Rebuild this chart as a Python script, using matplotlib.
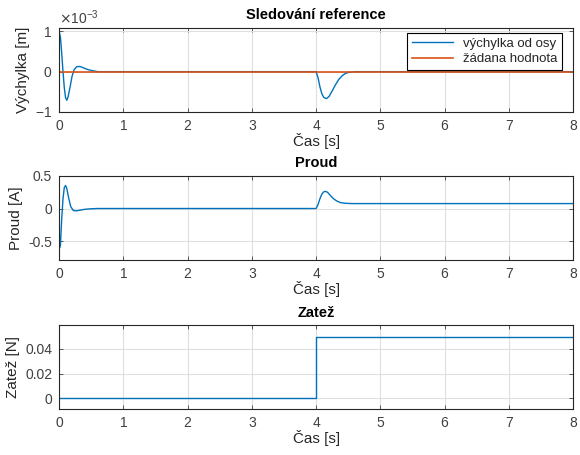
import numpy as np
import matplotlib
matplotlib.use('Agg')
import matplotlib.pyplot as plt
from matplotlib.ticker import ScalarFormatter

# data
t_vych = [0, 0.02, 0.04, 0.06, 0.08, 0.10, 0.12, 0.14, 0.17, 0.20, 0.23, 0.27, 0.32,
          0.37, 0.43, 0.50, 0.60, 4.0, 4.03, 4.06, 4.09, 4.12, 4.16, 4.20, 4.25,
          4.30, 4.35, 4.40, 4.45, 4.50, 4.60, 8.0]
vychylka = [1.0, 0.85, 0.45, 0.0, -0.4, -0.65, -0.71, -0.62, -0.38, -0.12, 0.04, 0.12,
            0.13, 0.10, 0.06, 0.03, 0.0, 0.0, -0.15, -0.38, -0.55, -0.64, -0.67, -0.62,
            -0.48, -0.33, -0.2, -0.11, -0.05, -0.02, 0.0, 0.0]  # x 1e-3 m
t_ref = [0, 8]
reference = [0, 0]

t_proud = [0, 0.005, 0.02, 0.04, 0.06, 0.08, 0.10, 0.12, 0.15, 0.18, 0.22, 0.27, 0.33,
           0.40, 0.50, 0.60, 4.0, 4.03, 4.06, 4.09, 4.12, 4.15, 4.18, 4.22, 4.27, 4.32,
           4.38, 4.45, 4.55, 8.0]
proud = [0, -0.6, -0.55, -0.15, 0.15, 0.32, 0.35, 0.30, 0.15, 0.03, -0.03, -0.035,
         -0.025, -0.012, -0.004, 0.0, 0.0, 0.06, 0.15, 0.22, 0.255, 0.26, 0.245, 0.2,
         0.15, 0.115, 0.09, 0.08, 0.075, 0.075]

t_zatez = [0, 4, 4, 8]
zatez = [0, 0, 0.05, 0.05]

plt.rcParams['font.family'] = ['Liberation Sans', 'DejaVu Sans']
plt.rcParams['axes.unicode_minus'] = False
txt = '#262626'
tck = '#404040'
modra = '#0072BD'
oranz = '#D95319'

fig = plt.figure(figsize=(5.8, 4.55), dpi=100)
ax1 = fig.add_axes([0.102, 0.754, 0.886, 0.185])
ax2 = fig.add_axes([0.102, 0.429, 0.886, 0.185])
ax3 = fig.add_axes([0.102, 0.101, 0.886, 0.185])

ax1.plot(t_vych, np.array(vychylka) * 1e-3, color=modra, lw=1, label='výchylka od osy')
ax1.plot(t_ref, reference, color=oranz, lw=1.2, label='žádana hodnota')
ax1.set_ylim(-1e-3, 1.09e-3)
ax1.set_yticks([-1e-3, 0, 1e-3])
fmt = ScalarFormatter(useMathText=True)
fmt.set_powerlimits((-2, 2))
ax1.yaxis.set_major_formatter(fmt)
ax1.set_ylabel('Výchylka [m]')
ax1.set_title('Sledování reference')
leg = ax1.legend(loc='upper right', fontsize=9.5, fancybox=False, framealpha=1,
                 edgecolor='black', borderpad=0.35, handlelength=3.1,
                 labelspacing=0.25, borderaxespad=0,
                 bbox_to_anchor=(0.979, 0.94))
leg.get_frame().set_linewidth(0.8)
for t in leg.get_texts():
    t.set_color(txt)

ax2.plot(t_proud, proud, color=modra, lw=1)
ax2.set_ylim(-0.78, 0.5)
ax2.set_yticks([-0.5, 0, 0.5])
ax2.set_yticklabels(['-0.5', '0', '0.5'])
ax2.set_ylabel('Proud [A]')
ax2.set_title('Proud')

ax3.plot(t_zatez, zatez, color=modra, lw=1)
ax3.set_ylim(-0.0087, 0.0595)
ax3.set_yticks([0, 0.02, 0.04])
ax3.set_yticklabels(['0', '0.02', '0.04'])
ax3.set_ylabel('Zatež [N]')
ax3.set_title('Zatež')

for ax in (ax1, ax2, ax3):
    ax.set_xlim(0, 8)
    ax.set_xticks(range(0, 9))
    ax.set_xlabel('Čas [s]', fontsize=11, color=txt, labelpad=0)
    ax.yaxis.label.set_color(txt)
    ax.yaxis.label.set_size(11)
    ax.title.set_fontweight('bold')
    ax.title.set_size(10.5)
    ax.title.set_color('black')
    ax.grid(True, color='#dfdfdf', lw=0.8)
    ax.set_axisbelow(True)
    ax.tick_params(direction='in', length=3, top=True, right=True, pad=5,
                   labelsize=10, colors=tck, width=0.6)
    for s in ax.spines.values():
        s.set_color(txt)
        s.set_linewidth(0.8)
ax1.yaxis.get_offset_text().set_size(10)
ax1.yaxis.get_offset_text().set_color(tck)

fig.savefig('out.png', dpi=100)
